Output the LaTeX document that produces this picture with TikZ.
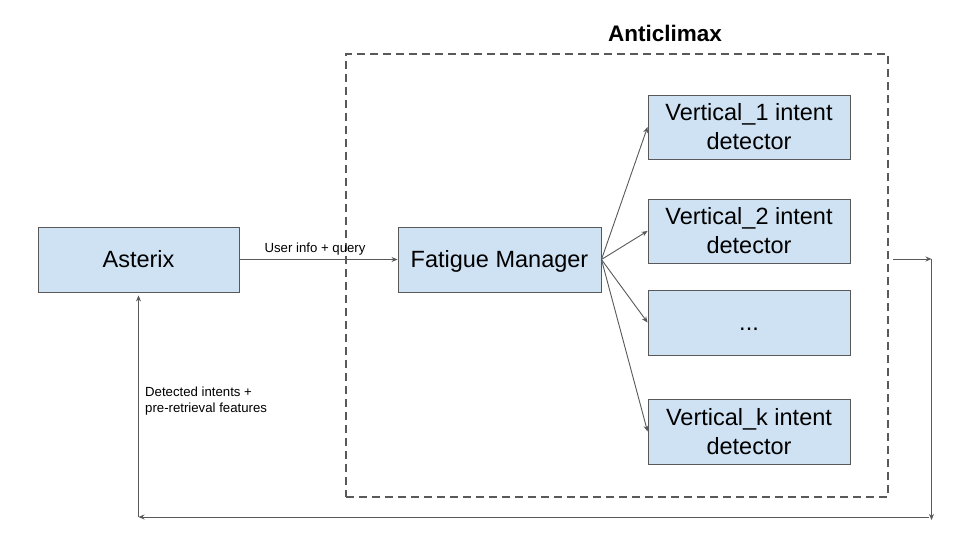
\documentclass[tikz,border=0pt]{standalone}
\usepackage{fontspec}
\setmainfont{Liberation Sans}
\usetikzlibrary{arrows.meta}
\definecolor{boxfill}{HTML}{CFE2F3}
\definecolor{linegray}{HTML}{595959}
\begin{document}
\begin{tikzpicture}[x=1pt,y=-1pt,
  box/.style={draw=linegray, line width=0.9pt, fill=boxfill, minimum height=65pt, inner sep=0pt, align=center, font=\fontsize{23.5}{29}\selectfont},
  onebox/.style={box, text height=18pt, text depth=2pt},
  conn/.style={draw=linegray, line width=0.9pt, -{Stealth[length=6pt,width=5pt]}},
  lbl/.style={font=\fontsize{13.2}{16}\selectfont, inner sep=0pt}
]
\useasboundingbox (0,0) rectangle (960,540);
\fill[white] (0,0) rectangle (960,540);

\node[draw=linegray, line width=2pt, dash pattern=on 8pt off 5pt, minimum width=542pt, minimum height=443pt, inner sep=0pt] (frame) at (617,275.5) {};
\node[font=\fontsize{22.5}{27}\selectfont\bfseries] (title) at (665,33) {Anticlimax};

\node[onebox, minimum width=201pt] (ast) at (138.5,259.5) {Asterix};
\node[onebox, minimum width=203pt] (fm) at (499.5,259.5) {Fatigue Manager};
\node[box, minimum width=202pt, minimum height=64pt] (v1) at (749,127) {Vertical\_1 intent\\detector};
\node[box, minimum width=202pt, minimum height=64pt] (v2) at (749,231) {Vertical\_2 intent\\detector};
\node[onebox, minimum width=202pt] (vd) at (749,322.5) {...};
\node[box, minimum width=202pt] (vk) at (749,431.5) {Vertical\_k intent\\detector};

\draw[conn] (ast) -- (fm);
\node[lbl] (uq) at (315,249) {User info + query};

\draw[conn] (fm.east) -- (v1.west);
\draw[conn] (fm.east) -- (v2.west);
\draw[conn] (fm.east) -- (vd.west);
\draw[conn] (fm.east) -- (vk.west);

\coordinate (r1) at (893,259);
\coordinate (r2) at (931.5,259);
\coordinate (r3) at (931.5,520);
\coordinate (b1) at (929,517);
\coordinate (b2) at (138.5,517);
\draw[conn] (r1) -- (r2);
\draw[conn] (r2) -- (r3);
\draw[conn] (b1) -- (b2);
\draw[conn, shorten >=3pt] (b2) -- (ast.south);

\node[lbl, anchor=north west, align=left] (di) at (145,387) {Detected intents +\\pre-retrieval features};
\end{tikzpicture}
\end{document}
